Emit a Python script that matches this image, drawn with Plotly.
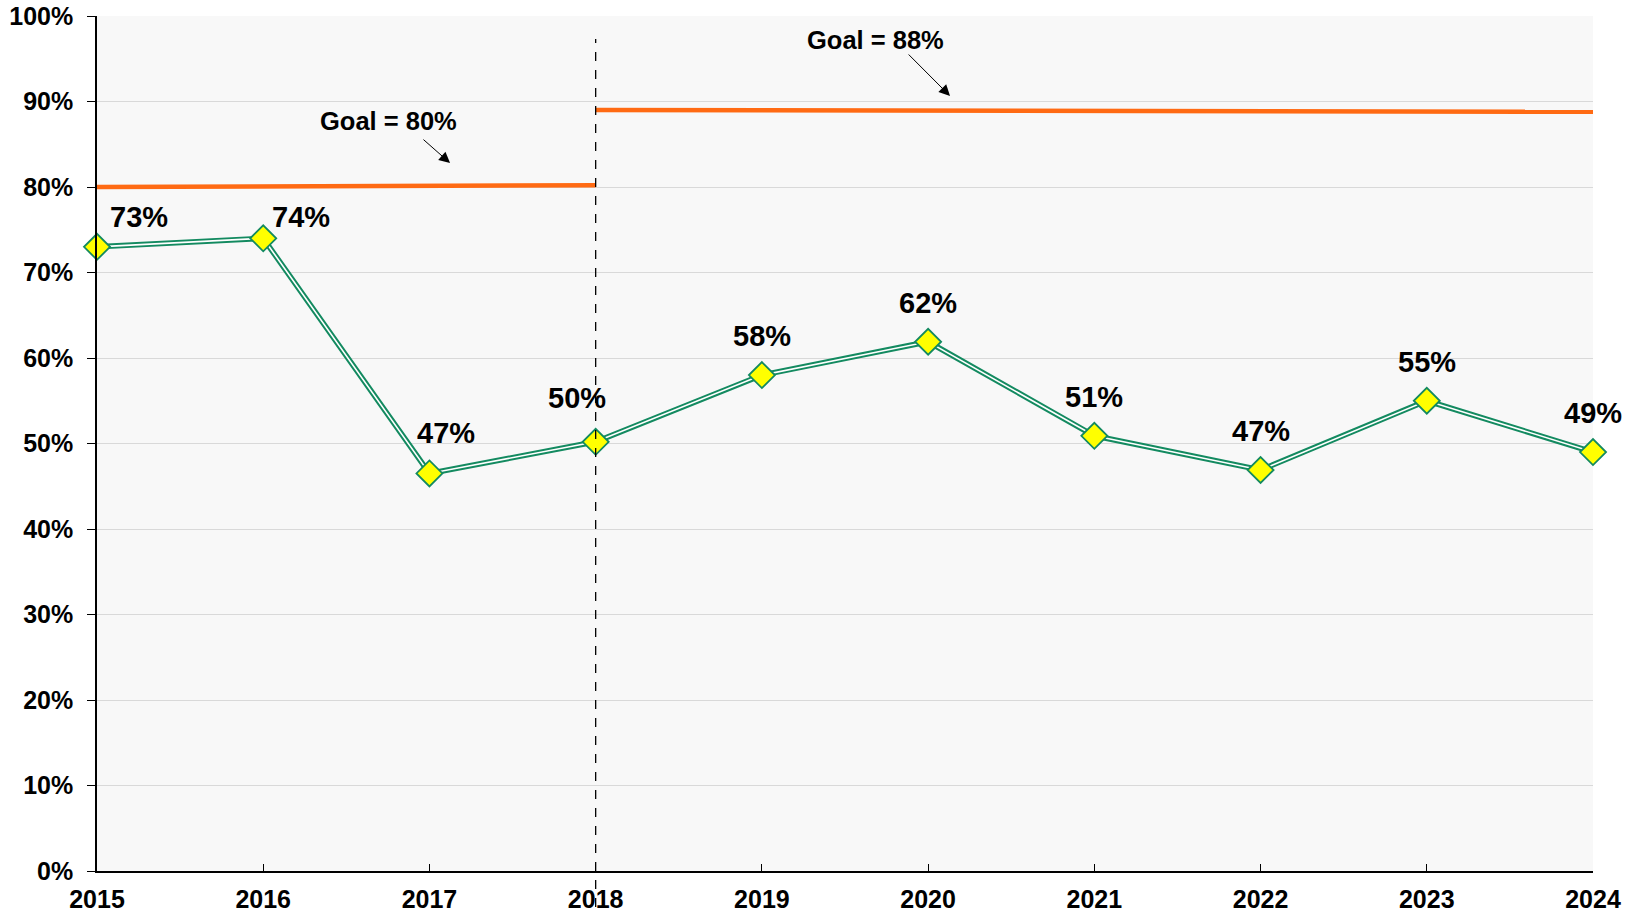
import plotly.graph_objects as go

# ---- data ----
years = [2015, 2016, 2017, 2018, 2019, 2020, 2021, 2022, 2023, 2024]
values = [73.0, 74.0, 46.5, 50.2, 58.0, 61.9, 50.9, 46.9, 55.0, 49.0]
value_labels = ["73%", "74%", "47%", "50%", "58%", "62%", "51%", "47%", "55%", "49%"]

goal1_x = [2015, 2018]
goal1_y = [80.0, 80.2]
goal2_x = [2018, 2024]
goal2_y = [89.0, 88.8]
goal1_text = "Goal = 80%"
goal2_text = "Goal = 88%"
divider_year = 2018

y_ticks = [0, 10, 20, 30, 40, 50, 60, 70, 80, 90, 100]
y_tick_labels = [f"{v}%" for v in y_ticks]

# ---- styles ----
FONT = "Arial, 'Liberation Sans', sans-serif"
GREEN = "#138a60"
ORANGE = "#ff6a13"
label_shift = {2015: (42, 30), 2016: (38, 21), 2017: (17, 40), 2018: (-19, 44)}

fig = go.Figure()

fig.add_trace(go.Scatter(x=goal1_x, y=goal1_y, mode="lines",
                         line=dict(color=ORANGE, width=4.5), hoverinfo="skip",
                         showlegend=False))
fig.add_trace(go.Scatter(x=goal2_x, y=goal2_y, mode="lines",
                         line=dict(color=ORANGE, width=4.5), hoverinfo="skip",
                         showlegend=False))

# double line: dark outer, white inner
fig.add_trace(go.Scatter(x=years, y=values, mode="lines",
                         line=dict(color=GREEN, width=5.5), showlegend=False,
                         cliponaxis=False))
fig.add_trace(go.Scatter(x=years, y=values, mode="lines+markers",
                         line=dict(color="white", width=1.6),
                         marker=dict(symbol="diamond", size=20, color="#ffff00",
                                     line=dict(color=GREEN, width=1.8)),
                         showlegend=False, cliponaxis=False))

annotations = []
for yr, v, t in zip(years, values, value_labels):
    xs, ys = label_shift.get(yr, (0, 39))
    annotations.append(dict(x=yr, y=v, text=t, showarrow=False, xshift=xs, yshift=ys,
                            font=dict(family=FONT, size=29, color="black", weight="bold")))

annotations.append(dict(x=2016.754, y=87.7, text=goal1_text, showarrow=False,
                        font=dict(family=FONT, size=25.5, color="black", weight="bold")))
annotations.append(dict(x=2017.124, y=82.8, ax=2016.955, ay=85.7, axref="x", ayref="y",
                        text="", showarrow=True, arrowhead=2, arrowsize=2.2,
                        arrowwidth=1, arrowcolor="black"))
annotations.append(dict(x=2019.681, y=97.2, text=goal2_text, showarrow=False,
                        font=dict(family=FONT, size=25.5, color="black", weight="bold")))
annotations.append(dict(x=2020.132, y=90.64, ax=2019.874, ay=95.67, axref="x", ayref="y",
                        text="", showarrow=True, arrowhead=2, arrowsize=2.2,
                        arrowwidth=1, arrowcolor="black"))

fig.add_shape(type="line", xref="x", yref="paper", x0=divider_year, x1=divider_year,
              y0=-0.042, y1=0.973, line=dict(color="black", width=1.3, dash="dash"))

fig.update_layout(
    width=1638, height=913,
    margin=dict(l=97, r=45, t=16, b=42, autoexpand=False),
    paper_bgcolor="white", plot_bgcolor="#f8f8f8",
    annotations=annotations,
    font=dict(family=FONT),
)
fig.update_xaxes(range=[2015, 2024], tickvals=years, ticktext=[str(y) for y in years],
                 showline=True, linecolor="black", linewidth=1.5, ticks="inside",
                 ticklen=7, tickcolor="black", showgrid=False, zeroline=False,
                 automargin=False,
                 tickfont=dict(family=FONT, size=25, color="black", weight="bold"),
                 ticklabelstandoff=5)
fig.update_yaxes(range=[0, 100], tickmode="array", tickvals=y_ticks, ticktext=y_tick_labels,
                 showline=True, linecolor="black", linewidth=1.5, ticks="outside",
                 ticklen=8, tickcolor="black", showgrid=True, gridcolor="#d9d9d9",
                 gridwidth=1, zeroline=False, automargin=False,
                 tickfont=dict(family=FONT, size=25, color="black", weight="bold"),
                 ticklabelstandoff=9)

fig.write_html("out.html", config={"displayModeBar": False},
               post_script="document.body.style.margin='0px';document.body.style.overflow='hidden';")
